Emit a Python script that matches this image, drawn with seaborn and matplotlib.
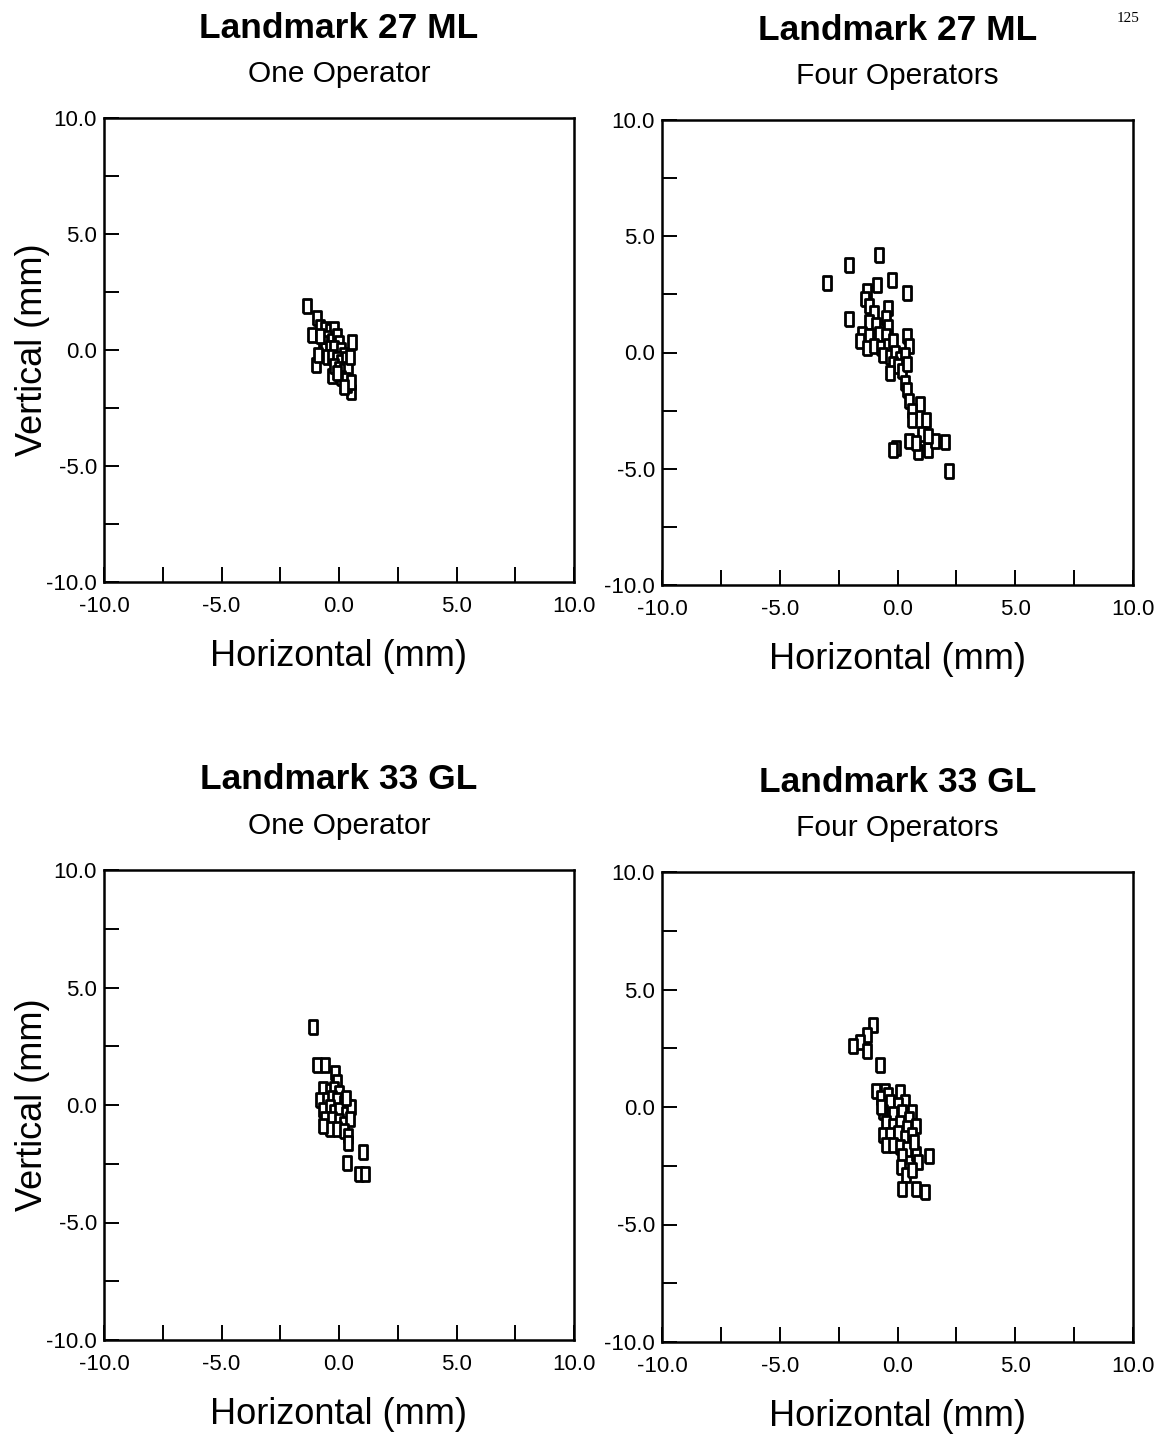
import matplotlib
matplotlib.use("Agg")
import matplotlib.pyplot as plt
import seaborn as sns
import pandas as pd

# ---- data (mm) ----
tl_x = [-1.35, -0.95, -1.15, -1.0, 0.55, 0.5, -0.3, 0.35, -0.8, -0.6, -0.4, -0.2, -0.5, -0.3, -0.1, 0.0,
        -0.7, -0.6, -0.4, -0.2, 0.1, 0.2, -0.5, -0.3, -0.1, 0.1, 0.3, -0.2, 0.0, 0.2, 0.4, 0.1, 0.3, -0.1,
        0.45, -0.8, -0.9, 0.5, 0.2]
tl_y = [1.9, 1.4, 0.65, -0.65, 0.35, -1.8, -1.1, -1.5, 1.0, 0.9, 0.8, 0.9, 0.5, 0.4, 0.6, 0.3,
        0.3, 0.0, 0.1, 0.1, 0.0, -0.2, -0.3, -0.3, -0.4, -0.5, -0.4, -0.7, -0.8, -0.9, -0.8, -1.2, -1.3, -1.0,
        -0.3, 0.6, -0.2, -1.4, -1.6]

tr_x = [-0.8, -2.05, -3.0, -1.3, -0.85, -0.25, 0.4, -2.05, -0.4, -1.4, -1.2, -1.0, -1.2, -0.9, -0.5, -0.4,
        -1.5, -1.6, -1.2, -0.8, -0.5, -1.3, -1.0, -0.7, -0.4, -0.2, 0.4, 0.5, -0.6, -0.3, -0.1, 0.1, 0.3,
        -0.2, 0.0, 0.2, 0.4, 0.3, 0.4, 0.5, 0.95, 0.6, 1.2, 0.6, 1.05, 0.5, -0.05, -0.2, 0.85, 1.3, 1.6,
        2.0, 2.2, 0.8, 1.3, -0.3]
tr_y = [4.2, 3.75, 3.0, 2.65, 2.9, 3.1, 2.55, 1.45, 1.9, 2.3, 2.0, 1.7, 1.3, 1.2, 1.5, 1.1,
        0.8, 0.5, 0.7, 0.8, 0.7, 0.2, 0.3, 0.2, 0.3, 0.5, 0.7, 0.3, -0.1, -0.2, 0.0, -0.3, -0.1,
        -0.5, -0.6, -0.8, -0.5, -1.3, -1.6, -2.1, -2.2, -2.5, -2.9, -2.9, -3.5, -3.8, -4.1, -4.2, -4.3, -4.2, -3.8,
        -3.85, -5.1, -3.9, -3.6, -0.9]

bl_x = [-1.1, -0.95, -0.6, -0.15, -0.1, -0.7, -0.4, -0.2, 0.0, -0.8, -0.5, -0.3, -0.1, 0.2, 0.4, -0.7,
        -0.4, -0.2, 0.0, 0.3, 0.5, -0.6, -0.3, 0.0, 0.2, 0.45, -0.4, -0.1, 0.2, 0.4, 0.4, 1.0, 0.35, 0.85,
        1.1, -0.7, 0.3]
bl_y = [3.3, 1.7, 1.7, 1.35, 1.0, 0.7, 0.6, 0.7, 0.5, 0.2, 0.2, 0.3, 0.2, 0.1, -0.1, -0.2,
        -0.1, -0.3, -0.2, -0.4, -0.1, -0.6, -0.6, -0.7, -0.8, -0.6, -1.0, -1.0, -1.1, -1.3, -1.6, -2.0, -2.45, -2.95,
        -2.95, -0.9, 0.3]

br_x = [-1.05, -1.3, -1.6, -1.3, -1.9, -0.75, -0.9, -0.55, 0.1, -0.7, -0.4, 0.3, 0.6, -0.3, 0.0, -0.6,
        -0.2, 0.2, 0.5, -0.5, -0.2, 0.1, 0.4, 0.8, -0.6, -0.3, 0.0, 0.3, 0.6, -0.5, -0.2, 0.1, 0.4, 0.2,
        0.8, 1.35, 0.15, 0.85, 0.35, 0.2, 0.8, 1.15, 0.6, -0.7, 0.7]
br_y = [3.5, 3.05, 2.75, 2.4, 2.6, 1.8, 0.7, 0.7, 0.65, 0.4, 0.5, 0.2, -0.2, 0.2, 0.1, -0.2,
        -0.3, -0.2, -0.5, -0.7, -0.8, -0.7, -0.9, -0.8, -1.2, -1.2, -1.1, -1.3, -1.2, -1.6, -1.6, -1.7, -1.8, -2.1,
        -2.0, -2.1, -2.55, -2.35, -2.9, -3.5, -3.5, -3.6, -2.7, 0.0, -1.5]

titles = ["Landmark 27 ML", "Landmark 27 ML", "Landmark 33 GL", "Landmark 33 GL"]
subtitles = ["One Operator", "Four Operators", "One Operator", "Four Operators"]
tick_values = [-10.0, -5.0, 0.0, 5.0, 10.0]
tick_labels = ["-10.0", "-5.0", "0.0", "5.0", "10.0"]
minor_values = [-7.5, -2.5, 2.5, 7.5]

sns.set_theme(style="white")
plt.rcParams['font.family'] = ['Liberation Sans', 'DejaVu Sans']

W, H = 1161, 1439
fig = plt.figure(figsize=(W / 100, H / 100), dpi=100)

# axes boxes in pixels: left, top, right, bottom
boxes = [(104, 118, 574, 582), (662, 120, 1133, 585),
         (104, 870, 574, 1340), (662, 872, 1133, 1342)]
data = [(tl_x, tl_y), (tr_x, tr_y), (bl_x, bl_y), (br_x, br_y)]

marker = [(-0.6, -1), (0.6, -1), (0.6, 1), (-0.6, 1), (-0.6, -1)]

for i, ((l, t, r, b), (xs, ys)) in enumerate(zip(boxes, data)):
    ax = fig.add_axes([l / W, 1 - b / H, (r - l) / W, (b - t) / H])
    df = pd.DataFrame({"x": xs, "y": ys})
    sns.scatterplot(data=df, x="x", y="y", ax=ax, marker=marker, s=105,
                    facecolor="white", edgecolor="black", linewidth=2.0)
    ax.set_xlim(-10, 10)
    ax.set_ylim(-10, 10)
    ax.set_xticks(tick_values)
    ax.set_xticklabels(tick_labels)
    ax.set_yticks(tick_values)
    ax.set_yticklabels(tick_labels)
    ax.set_xticks(minor_values, minor=True)
    ax.set_yticks(minor_values, minor=True)
    ax.tick_params(which="both", direction="in", length=11, width=1.4, color="black",
                   bottom=True, left=True, top=False, right=False,
                   labelsize=16, labelcolor="black")
    ax.tick_params(axis="x", which="major", pad=10)
    ax.tick_params(axis="y", which="major", pad=5)
    for sp in ax.spines.values():
        sp.set_color("black")
        sp.set_linewidth(1.8)
    ax.set_xlabel("Horizontal (mm)", fontsize=26, color="black", labelpad=16)
    if i % 2 == 0:
        ax.set_ylabel("Vertical (mm)", fontsize=26, color="black", labelpad=-3)
    else:
        ax.set_ylabel("")
    cx = (l + r) / 2 / W
    fig.text(cx, 1 - (t - 90) / H, titles[i], ha="center", va="center",
             fontsize=25.5, fontweight="bold", color="black")
    fig.text(cx, 1 - (t - 44) / H, subtitles[i], ha="center", va="center",
             fontsize=21.5, color="black")

fig.text(1128 / W, 1 - 18 / H, "125", ha="center", va="center", fontsize=11,
         family="Liberation Serif", color="black")

fig.savefig("out.png", dpi=100)
